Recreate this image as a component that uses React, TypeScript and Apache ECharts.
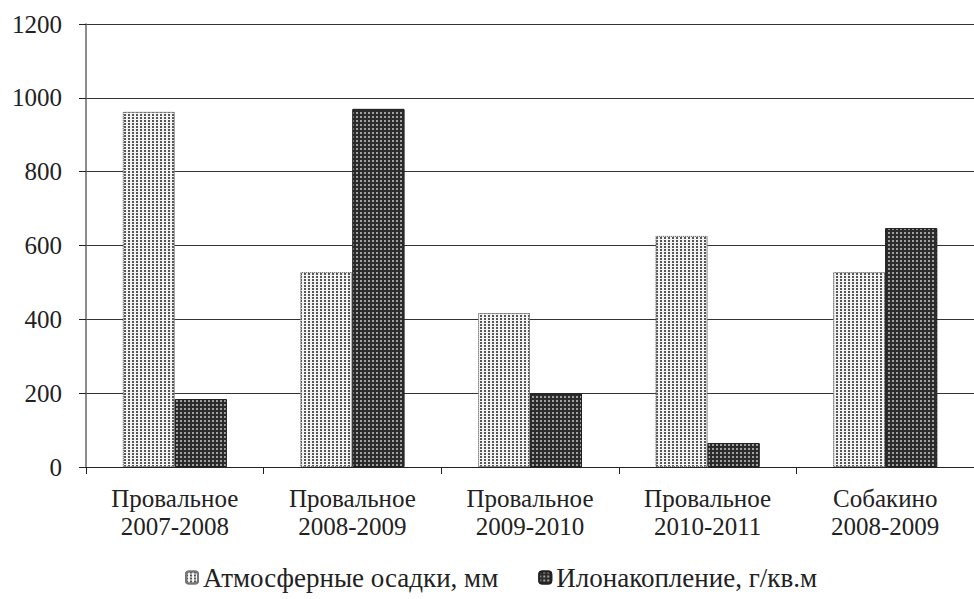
import React, { useEffect, useRef } from "react";
import * as echarts from "echarts";

const categories = ["Провальное\n2007-2008", "Провальное\n2008-2009", "Провальное\n2009-2010", "Провальное\n2010-2011", "Собакино\n2008-2009"];
const precipitation = [962, 528, 417, 626, 528];
const sediment = [184, 970, 200, 65, 647];
const seriesNames = ["Атмосферные осадки, мм", "Илонакопление, г/кв.м"];

const FONT = "Liberation Serif";

export default function App() {
  const ref = useRef<HTMLDivElement>(null);
  useEffect(() => {
    if (!ref.current) return;
    const chart = echarts.init(ref.current, null, { renderer: "svg" });
    chart.setOption({
      animation: false,
      backgroundColor: "#fff",
      textStyle: { fontFamily: FONT },
      grid: { left: 86, right: -8, top: 24, bottom: 132, containLabel: false },
      legend: {
        top: 564,
        left: 185,
        padding: 0,
        itemWidth: 12,
        itemHeight: 12,
        itemGap: 40,
        textStyle: { fontFamily: FONT, fontSize: 27, color: "#222" },
        data: seriesNames,
      },
      xAxis: {
        type: "category",
        data: categories,
        axisLine: { lineStyle: { color: "#222", width: 1 } },
        axisTick: { show: true, length: 7, lineStyle: { color: "#222" } },
        axisLabel: { fontFamily: FONT, fontSize: 25, color: "#222", lineHeight: 28, margin: 17 },
      },
      yAxis: {
        type: "value",
        min: 0,
        max: 1200,
        interval: 200,
        axisLine: { show: true, lineStyle: { color: "#666", width: 1.5 } },
        axisTick: { show: true, length: 7, lineStyle: { color: "#222" } },
        axisLabel: { fontFamily: FONT, fontSize: 25, color: "#222", margin: 24, formatter: (v: number) => String(v) },
        splitLine: { lineStyle: { color: "#333", width: 1.2 } },
      },
      series: [
        {
          name: seriesNames[0],
          type: "bar",
          data: precipitation,
          barWidth: 52,
          barGap: "0%",
          itemStyle: {
            color: "#f4f4f4",
            borderColor: "#777",
            borderWidth: 1,
            borderType: "dotted",
            decal: {
              symbol: "rect",
              symbolSize: 1,
              dashArrayX: [2, 2],
              dashArrayY: [2, 1],
              color: "#555",
            },
          },
        },
        {
          name: seriesNames[1],
          type: "bar",
          data: sediment,
          barWidth: 52,
          itemStyle: {
            color: "#2b2b2b",
            borderColor: "#222",
            borderWidth: 1,
            decal: {
              symbol: "rect",
              symbolSize: 1,
              dashArrayX: [2, 2],
              dashArrayY: [2, 2],
              color: "rgba(200,200,200,0.75)",
            },
          },
        },
      ],
    });
    return () => chart.dispose();
  }, []);
  return <div ref={ref} style={{ width: 974, height: 599, position: "absolute", left: 0, top: 0 }} />;
}
